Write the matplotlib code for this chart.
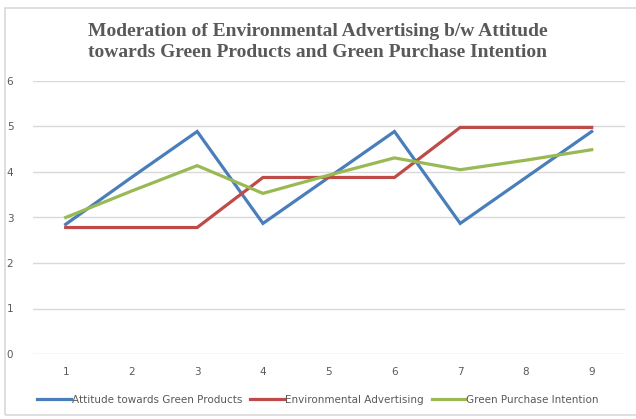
import matplotlib
matplotlib.use("Agg")
import matplotlib.pyplot as plt
from matplotlib.patches import Rectangle

categories = [1, 2, 3, 4, 5, 6, 7, 8, 9]
attitude = [2.85, 3.88, 4.89, 2.87, 3.88, 4.89, 2.87, 3.88, 4.89]
advertising = [2.78, 2.78, 2.78, 3.88, 3.88, 3.88, 4.98, 4.98, 4.98]
intention = [3.0, 3.58, 4.14, 3.53, 3.93, 4.31, 4.05, 4.26, 4.49]
series_names = ["Attitude towards Green Products", "Environmental Advertising", "Green Purchase Intention"]
colors = ["#4a7ebb", "#be4b48", "#98b954"]
title = "Moderation of Environmental Advertising b/w Attitude\ntowards Green Products and Green Purchase Intention"

W, H = 636, 419
fig = plt.figure(figsize=(W / 100, H / 100), dpi=100)
fig.patch.set_facecolor("white")

# outer chart border
fig.add_artist(Rectangle((5 / W, 4 / H), 1.2, (H - 12) / H, transform=fig.transFigure,
                         fill=False, edgecolor="#d9d9d9", linewidth=1.2))

ax = fig.add_axes([32.8 / W, (H - 354) / H, (624.6 - 32.8) / W, (354 - 81) / H])
for vals, name, c in zip([attitude, advertising, intention], series_names, colors):
    ax.plot(categories, vals, color=c, linewidth=2.3, label=name, solid_joinstyle="miter")

ax.set_xlim(0.5, 9.5)
ax.set_ylim(0, 6)
ax.set_yticks(range(0, 7))
ax.set_xticks(categories)
ax.grid(axis="y", color="#d9d9d9", linewidth=1)
ax.set_axisbelow(True)
for s in ax.spines.values():
    s.set_visible(False)
ax.tick_params(length=0, labelsize=7.5, colors="#595959")
ax.tick_params(axis="y", pad=14)
ax.tick_params(axis="x", pad=9)

fig.text(0.5, (H - 42) / H, title, ha="center", va="center", fontsize=14,
         fontweight="bold", family="Liberation Serif", color="#595959", linespacing=1.25)

leg = fig.legend(loc="center", bbox_to_anchor=(0.5, (H - 400) / H), ncol=3, frameon=False,
                 fontsize=7.5, handlelength=3.2, handletextpad=0.1, columnspacing=0.8)
for t in leg.get_texts():
    t.set_color("#595959")

fig.savefig("out.png", dpi=100, facecolor="white")
